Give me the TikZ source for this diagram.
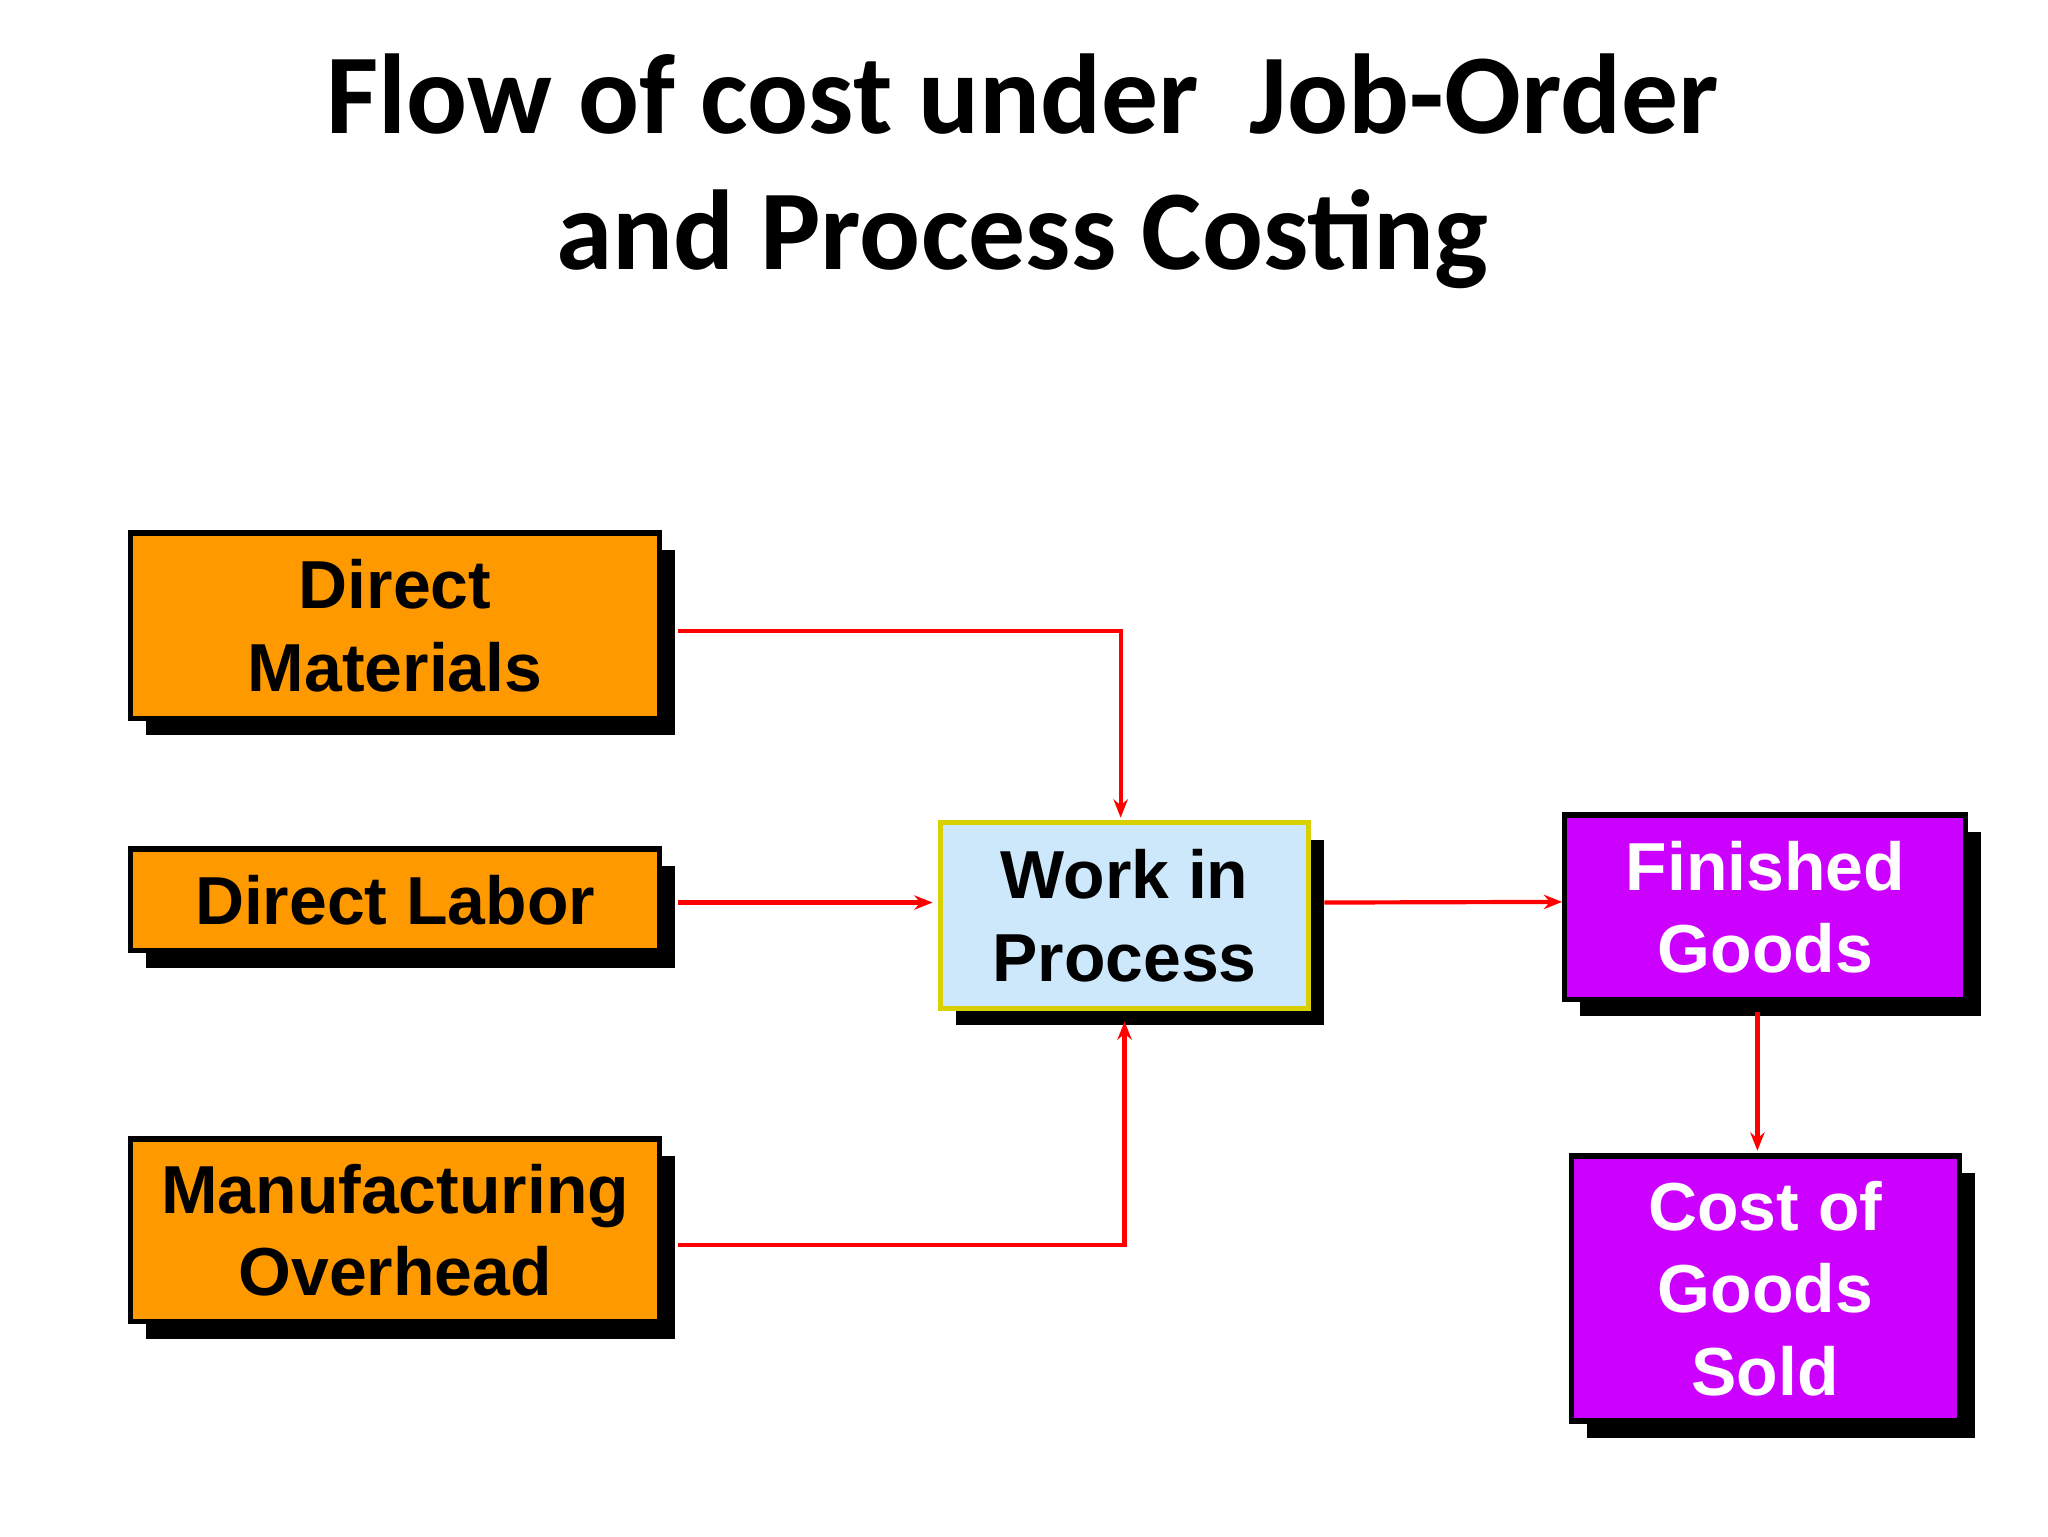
\documentclass[tikz,border=0pt]{standalone}
\usepackage{fontspec}
\setmainfont{Liberation Sans}
\newfontfamily\titlefont{Carlito}
\usetikzlibrary{shadows,arrows.meta}
\definecolor{orangebox}{HTML}{FF9900}
\definecolor{wipfill}{HTML}{CCE8FA}
\definecolor{wipline}{HTML}{D8D000}
\definecolor{purplebox}{HTML}{CC00FF}
\tikzset{
  box/.style={draw=black, line width=4pt, align=center, inner sep=0pt,
    font=\fontsize{52}{63}\selectfont\bfseries,
    drop shadow={shadow xshift=12pt, shadow yshift=-13pt, fill=black, opacity=1}},
  orange/.style={box, fill=orangebox},
  purple/.style={box, fill=purplebox, text=white},
  flow/.style={draw=red, line width=3.2pt, -{Stealth[length=14pt,width=11pt]}}
}
\begin{document}
\begin{tikzpicture}[x=1pt,y=-1pt]
\useasboundingbox[fill=white] (0,0) rectangle (1568,1176);
\node[font=\titlefont\fontsize{87}{104}\selectfont\bfseries, align=center, anchor=north] (title) at (783,38) {Flow of cost under\ \ Job-Order\\and Process Costing};
\node[orange, minimum width=405pt, minimum height=142pt] (dm) at (302.5,479) {Direct\\Materials};
\node[orange, minimum width=405pt, minimum height=78pt] (dl) at (302.5,689) {Direct Labor};
\node[orange, minimum width=405pt, minimum height=140pt] (mo) at (302.5,942) {Manufacturing\\Overhead};
\node[box, draw=wipline, fill=wipfill, minimum width=282pt, minimum height=142pt] (wip) at (861,701) {Work in\\Process};
\node[purple, minimum width=307pt, minimum height=141pt] (fg) at (1351.5,694.5) {Finished\\Goods};
\node[purple, minimum width=297pt, minimum height=203pt] (cogs) at (1351.5,986.5) {Cost of\\Goods\\Sold};
\draw[flow] ([xshift=12pt,yshift=-4pt]dm.east) -| ([xshift=-3pt,yshift=2pt]wip.north);
\draw[flow] ([xshift=12pt,yshift=-2pt]dl.east) -- ([xshift=-4pt,yshift=10pt]wip.west);
\draw[flow] ([xshift=12pt,yshift=-11pt]mo.east) -| ([yshift=-8pt]wip.south);
\draw[flow] ([xshift=10pt,yshift=10pt]wip.east) -- ([yshift=4pt]fg.west);
\draw[flow] ([xshift=-6pt,yshift=-8pt]fg.south) -- ([xshift=-6pt,yshift=2pt]cogs.north);
\end{tikzpicture}
\end{document}
